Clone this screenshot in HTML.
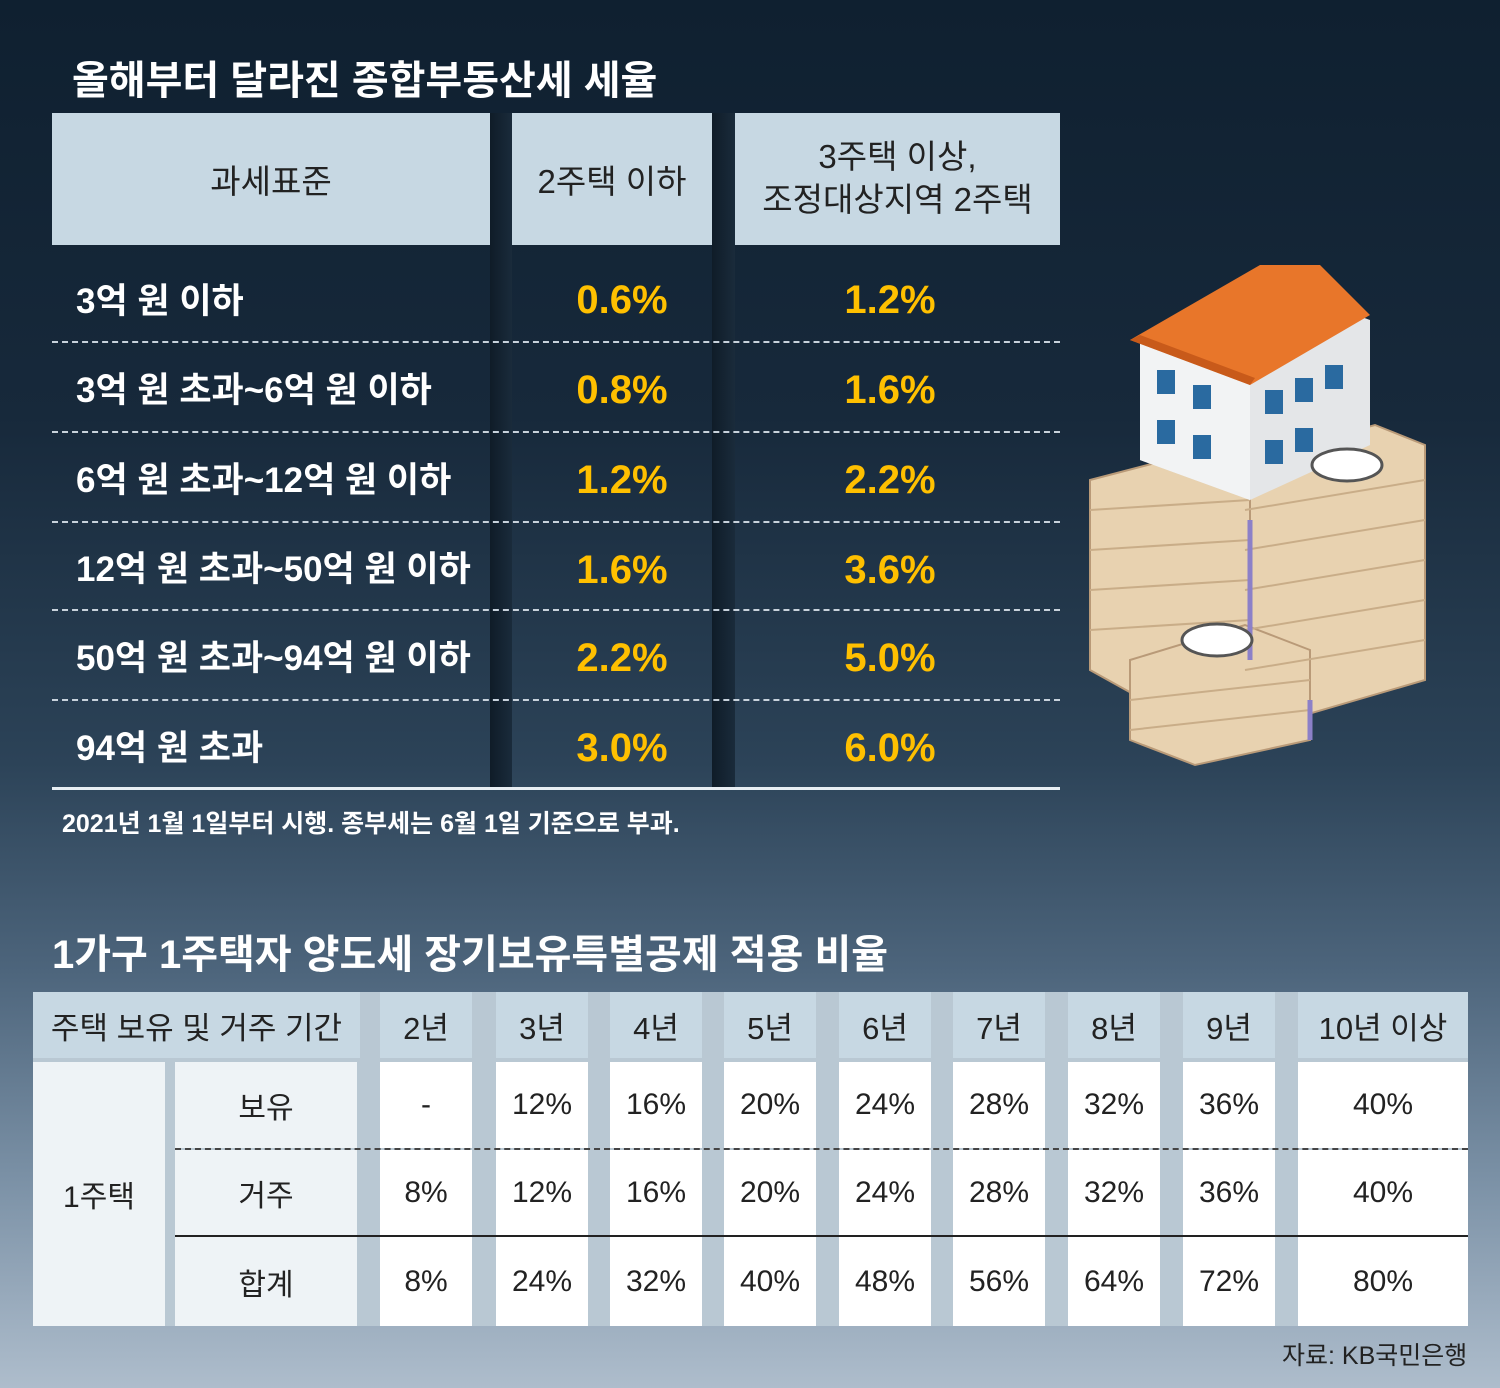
<!DOCTYPE html><html><head><meta charset="utf-8"><style>
*{margin:0;padding:0;box-sizing:border-box}
body{width:1500px;height:1388px;overflow:hidden;position:relative;font-family:"Liberation Sans","Noto Sans CJK KR",sans-serif;background:linear-gradient(180deg,#0f2030 0%,#17293b 30%,#2c4358 55%,#4d657c 70%,#7b91a6 85%,#aebdcc 100%)}
.a{position:absolute}
.t{color:#fff;font-weight:bold}
.c{display:flex;align-items:center;justify-content:center;position:absolute;text-align:center}
.y{color:#ffc000;font-weight:bold;font-size:40px}
.w{color:#fff;font-size:35px;font-weight:bold}
.d{position:absolute;left:52px;width:1008px;border-top:2px dashed #c8d2dc}
.h{background:#c7d8e3;color:#222;font-size:33px}
.b{background:#fff;color:#222;font-size:30px}
.l{background:#eef3f6;color:#222;font-size:30px}
</style></head><body>
<div class="a t" style="left:72px;top:48px;font-size:40px">올해부터 달라진 종합부동산세 세율</div>
<div class="a" style="left:490px;top:113px;width:22px;height:675px;background:linear-gradient(90deg,#0f1c28,#1a2b3b)"></div>
<div class="a" style="left:712px;top:113px;width:23px;height:675px;background:linear-gradient(90deg,#0f1c28,#1a2b3b)"></div>
<div class="c h" style="left:52px;top:113px;width:438px;height:132px">과세표준</div>
<div class="c h" style="left:512px;top:113px;width:200px;height:132px">2주택 이하</div>
<div class="c h" style="left:735px;top:113px;width:325px;height:132px;line-height:1.3">3주택 이상,<br>조정대상지역 2주택</div>
<div class="c w" style="left:76px;top:255px;height:86px;justify-content:flex-start">3억 원 이하</div>
<div class="c w" style="left:76px;top:343px;height:88px;justify-content:flex-start">3억 원 초과~6억 원 이하</div>
<div class="c w" style="left:76px;top:433px;height:88px;justify-content:flex-start">6억 원 초과~12억 원 이하</div>
<div class="c w" style="left:76px;top:523px;height:86px;justify-content:flex-start">12억 원 초과~50억 원 이하</div>
<div class="c w" style="left:76px;top:611px;height:88px;justify-content:flex-start">50억 원 초과~94억 원 이하</div>
<div class="c w" style="left:76px;top:701px;height:88px;justify-content:flex-start">94억 원 초과</div>
<div class="c y" style="left:512px;top:255px;width:220px;height:90px">0.6%</div><div class="c y" style="left:735px;top:255px;width:310px;height:90px">1.2%</div>
<div class="c y" style="left:512px;top:345px;width:220px;height:90px">0.8%</div><div class="c y" style="left:735px;top:345px;width:310px;height:90px">1.6%</div>
<div class="c y" style="left:512px;top:435px;width:220px;height:90px">1.2%</div><div class="c y" style="left:735px;top:435px;width:310px;height:90px">2.2%</div>
<div class="c y" style="left:512px;top:525px;width:220px;height:90px">1.6%</div><div class="c y" style="left:735px;top:525px;width:310px;height:90px">3.6%</div>
<div class="c y" style="left:512px;top:613px;width:220px;height:90px">2.2%</div><div class="c y" style="left:735px;top:613px;width:310px;height:90px">5.0%</div>
<div class="c y" style="left:512px;top:703px;width:220px;height:90px">3.0%</div><div class="c y" style="left:735px;top:703px;width:310px;height:90px">6.0%</div>
<div class="d" style="top:341px"></div><div class="d" style="top:431px"></div><div class="d" style="top:521px"></div><div class="d" style="top:609px"></div><div class="d" style="top:699px"></div>
<div class="a" style="left:52px;top:787px;width:1008px;height:3px;background:#e8eef3"></div>
<div class="a t" style="left:62px;top:804px;font-size:25px">2021년 1월 1일부터 시행. 종부세는 6월 1일 기준으로 부과.</div>

<svg class="a" style="left:1085px;top:260px" width="350" height="510">
<g fill="#e8d2b0" stroke="#b99a78" stroke-width="2">
<polygon points="160,200 290,165 340,185 340,420 220,455 160,430"/>
<polygon points="5,220 120,190 165,210 165,400 50,435 5,410"/>
<polygon points="45,400 160,365 225,390 225,480 110,505 45,480"/>
</g>
<g stroke="#c9ad88" stroke-width="2">
<line x1="5" y1="250" x2="165" y2="240"/><line x1="5" y1="290" x2="165" y2="280"/><line x1="5" y1="330" x2="165" y2="320"/><line x1="5" y1="370" x2="165" y2="360"/>
<line x1="160" y1="250" x2="340" y2="220"/><line x1="160" y1="290" x2="340" y2="260"/><line x1="160" y1="330" x2="340" y2="300"/><line x1="160" y1="370" x2="340" y2="340"/><line x1="160" y1="410" x2="340" y2="380"/>
<line x1="45" y1="440" x2="225" y2="420"/><line x1="45" y1="470" x2="225" y2="450"/>
</g>
<g stroke="#8c80c8" stroke-width="5"><line x1="165" y1="260" x2="165" y2="400"/><line x1="225" y1="440" x2="225" y2="480"/></g>
<polygon points="55,80 175,20 285,60 285,185 165,240 55,200" fill="#e4e6e8"/>
<polygon points="55,80 165,125 165,240 55,200" fill="#f2f3f4"/>
<polygon points="45,80 175,5 235,5 285,55 165,125" fill="#e8762a"/>
<polygon points="45,80 165,125 170,118 55,75" fill="#c85a1a"/>
<g fill="#2a6aa0"><rect x="72" y="110" width="18" height="24"/><rect x="108" y="125" width="18" height="24"/><rect x="72" y="160" width="18" height="24"/><rect x="108" y="175" width="18" height="24"/><rect x="180" y="130" width="18" height="24"/><rect x="210" y="118" width="18" height="24"/><rect x="240" y="105" width="18" height="24"/><rect x="180" y="180" width="18" height="24"/><rect x="210" y="168" width="18" height="24"/></g>
<ellipse cx="262" cy="205" rx="35" ry="16" fill="#fff" stroke="#555" stroke-width="3"/>
<ellipse cx="132" cy="380" rx="35" ry="16" fill="#fff" stroke="#555" stroke-width="3"/>
</svg>

<div class="a t" style="left:52px;top:922px;font-size:40px">1가구 1주택자 양도세 장기보유특별공제 적용 비율</div>
<div class="a" style="left:33px;top:992px;width:1435px;height:334px;background:#b9c8d3"></div>
<div class="c h" style="left:33px;top:992px;width:327px;height:66px;font-size:31px">주택 보유 및 거주 기간</div>
<div class="c l" style="left:33px;top:1062px;width:132px;height:264px">1주택</div>
<div class="c l" style="left:175px;top:1062px;width:182px;height:86px">보유</div>
<div class="c l" style="left:175px;top:1150px;width:182px;height:85px">거주</div>
<div class="c l" style="left:175px;top:1237px;width:182px;height:89px">합계</div>
<div id="g"></div>
<script>
var xs=[[380,92],[496,92],[610,92],[724,92],[839,92],[953,92],[1068,92],[1183,92],[1298,170]];
var hd=["2년","3년","4년","5년","6년","7년","8년","9년","10년 이상"];
var r1=["-","12%","16%","20%","24%","28%","32%","36%","40%"];
var r2=["8%","12%","16%","20%","24%","28%","32%","36%","40%"];
var r3=["8%","24%","32%","40%","48%","56%","64%","72%","80%"];
var h="";
xs.forEach(function(x,i){
h+='<div class="c h" style="left:'+x[0]+'px;top:992px;width:'+x[1]+'px;height:66px;font-size:31px">'+hd[i]+'</div>';
h+='<div class="c b" style="left:'+x[0]+'px;top:1062px;width:'+x[1]+'px;height:86px">'+r1[i]+'</div>';
h+='<div class="c b" style="left:'+x[0]+'px;top:1150px;width:'+x[1]+'px;height:85px">'+r2[i]+'</div>';
h+='<div class="c b" style="left:'+x[0]+'px;top:1237px;width:'+x[1]+'px;height:89px">'+r3[i]+'</div>';
});
document.getElementById("g").innerHTML=h;
</script>
<div class="a" style="left:175px;top:1148px;width:1293px;border-top:2px dashed #444"></div>
<div class="a" style="left:175px;top:1235px;width:1293px;height:2px;background:#222"></div>
<div class="a" style="left:1282px;top:1336px;font-size:25px;color:#222">자료: KB국민은행</div>
</body></html>
